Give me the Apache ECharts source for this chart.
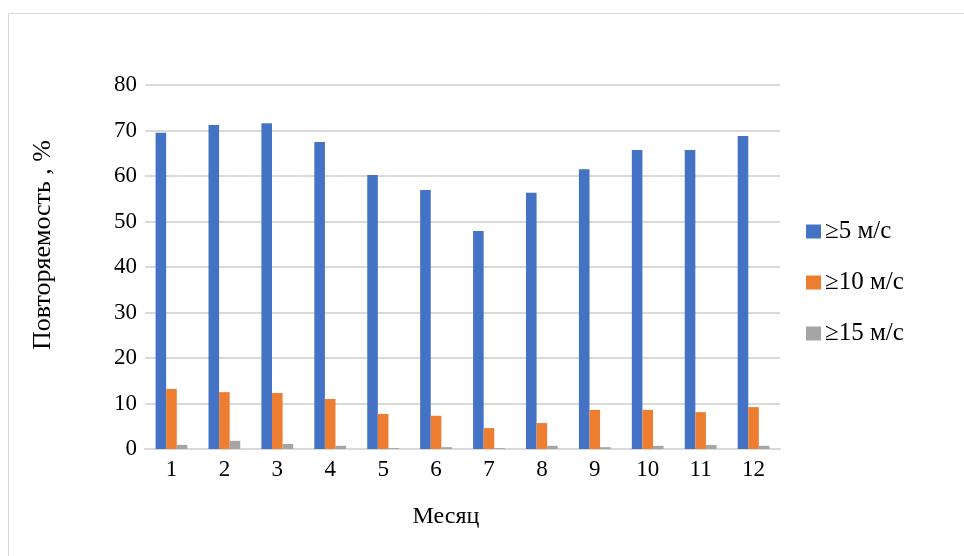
<!DOCTYPE html>
<html>
<head>
<meta charset="utf-8">
<script src="https://cdn.jsdelivr.net/npm/echarts@6/dist/echarts.min.js"></script>
<style>html,body{margin:0;padding:0;background:#fff}#c{width:964px;height:556px}</style>
</head>
<body>
<div id="c"></div>
<script>
var categories = ['1','2','3','4','5','6','7','8','9','10','11','12'];
var seriesNames = ['≥5 м/с', '≥10 м/с', '≥15 м/с'];
var s5 = [69.5, 71.2, 71.6, 67.5, 60.2, 56.9, 47.9, 56.3, 61.5, 65.7, 65.7, 68.8];
var s10 = [13.2, 12.5, 12.3, 11.0, 7.7, 7.3, 4.6, 5.7, 8.6, 8.6, 8.1, 9.2];
var s15 = [0.9, 1.8, 1.1, 0.7, 0.2, 0.4, 0.2, 0.7, 0.4, 0.7, 0.9, 0.7];
var yTicks = [0, 10, 20, 30, 40, 50, 60, 70, 80];
var colors = ['#4472C4', '#ED7D31', '#A5A5A5'];
var font = "'Liberation Serif', 'Times New Roman', serif";

var chart = echarts.init(document.getElementById('c'), null, {renderer: 'canvas'});
function mk(name, data, color) {
  return {name: name, type: 'bar', data: data, barGap: '0%', barCategoryGap: '40%',
    itemStyle: {color: color}, animation: false};
}
chart.setOption({
  animation: false,
  backgroundColor: '#fff',
  textStyle: {fontFamily: font},
  grid: {left: 145, right: 184, top: 85, bottom: 107},
  legend: {
    orient: 'vertical', left: 806, top: 219, padding: 0, itemWidth: 15, itemHeight: 14, itemGap: 26,
    icon: 'rect',
    textStyle: {fontFamily: font, fontSize: 25, color: '#000', lineHeight: 22, padding: [0,0,0,-1]},
    data: seriesNames
  },
  xAxis: {
    type: 'category', data: categories,
    axisLine: {lineStyle: {color: '#d9d9d9', width: 2}},
    axisTick: {show: false},
    axisLabel: {fontFamily: font, fontSize: 23, color: '#000', margin: 9}
  },
  yAxis: {
    type: 'value', min: yTicks[0], max: yTicks[yTicks.length-1], interval: 10,
    axisLine: {show: false}, axisTick: {show: false},
    splitLine: {lineStyle: {color: '#d9d9d9', width: 2}},
    axisLabel: {fontFamily: font, fontSize: 23, color: '#000', margin: 8}
  },
  graphic: [
    {type: 'rect', shape: {x: 8.5, y: 13.5, width: 1000, height: 1000}, style: {fill: 'none', stroke: '#d9d9d9', lineWidth: 1}, z: -1},
    {type: 'text', x: 43, y: 245, rotation: Math.PI/2, style: {text: 'Повторяемость , %', font: '26px ' + font, fill: '#000', align: 'center', verticalAlign: 'middle'}},
    {type: 'text', x: 446, y: 517, style: {text: 'Месяц', font: '24px ' + font, fill: '#000', align: 'center', verticalAlign: 'middle'}}
  ],
  series: [mk(seriesNames[0], s5, colors[0]), mk(seriesNames[1], s10, colors[1]), mk(seriesNames[2], s15, colors[2])]
});
</script>
</body>
</html>
